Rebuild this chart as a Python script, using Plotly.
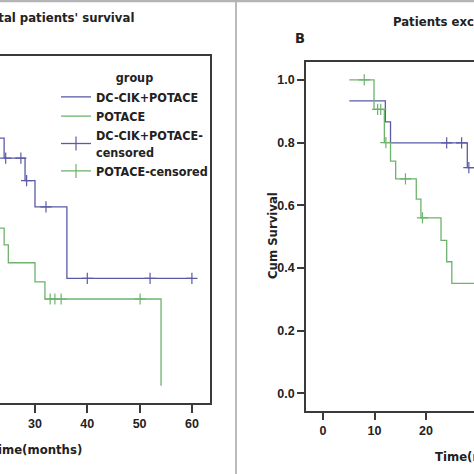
import plotly.graph_objects as go

# ---------------- data ----------------
# Panel A: total patients' survival (Kaplan-Meier steps)
a_dc_time = [0, 8, 15, 20, 24.1, 28.1, 30.0, 36.1, 60]
a_dc_surv = [1.0, 0.931, 0.862, 0.793, 0.729, 0.657, 0.573, 0.344, 0.344]
a_dc_cens_time = [24.4, 27.3, 28.4, 32.1, 40, 52, 60]
a_dc_cens_surv = [0.729, 0.729, 0.657, 0.573, 0.344, 0.344, 0.344]

a_po_time = [0, 2, 4, 6, 8, 11, 14, 17, 19, 22, 24.1, 24.9, 30.0, 31.9, 54.1]
a_po_surv = [1.0, 0.947, 0.894, 0.842, 0.789, 0.737, 0.684, 0.631, 0.568, 0.505,
             0.451, 0.394, 0.333, 0.278, 0.0]
a_po_cens_time = [32.9, 33.8, 35.0, 50.1]
a_po_cens_surv = [0.278, 0.278, 0.278, 0.278]

# Panel B: patients excluding ...
b_dc_time = [5.1, 12.1, 13.1, 28.0, 34]
b_dc_surv = [0.933, 0.866, 0.799, 0.72, 0.72]
b_dc_cens_time = [24.0, 26.9, 28.3]
b_dc_cens_surv = [0.799, 0.799, 0.72]

b_po_time = [5.1, 9.9, 11.9, 13.1, 14.1, 18.1, 19.0, 22.9, 24.0, 25.0, 34]
b_po_surv = [1.0, 0.906, 0.8, 0.741, 0.684, 0.62, 0.56, 0.488, 0.42, 0.351, 0.351]
b_po_cens_time = [8.0, 10.6, 11.2, 12.2, 16.0, 19.3]
b_po_cens_surv = [1.0, 0.906, 0.906, 0.8, 0.684, 0.56]

x_ticks = [0, 10, 20, 30, 40, 50, 60]
y_ticks = [0.0, 0.2, 0.4, 0.6, 0.8, 1.0]

legend_names = ["DC-CIK+POTACE", "POTACE", "DC-CIK+POTACE-<br>censored", "POTACE-censored"]

# ---------------- style ----------------
BLUE = "#5a5aa6"
GREEN = "#6db36d"
AXC = "#3a3a3a"
FONT = "DejaVu Sans Condensed, Liberation Sans Narrow, Arial Narrow, Liberation Sans, sans-serif"
TFONT = "Liberation Sans, Arial, sans-serif"
LW = 1.3
FS = 12.5

fig = go.Figure()

def step(x, y, color, xa, ya, name=None, show=False):
    fig.add_trace(go.Scatter(x=x, y=y, mode="lines", line=dict(color=color, width=LW, shape="hv"),
                             xaxis=xa, yaxis=ya, name=name, showlegend=show, hoverinfo="skip"))

def cens(x, y, color, xa, ya):
    fig.add_trace(go.Scatter(x=x, y=y, mode="markers",
                             marker=dict(symbol="cross-thin", size=8, line=dict(color=color, width=1.2)),
                             xaxis=xa, yaxis=ya, showlegend=False, hoverinfo="skip"))

# panel A
step(a_dc_time, a_dc_surv, BLUE, "x", "y", legend_names[0], True)
step(a_po_time, a_po_surv, GREEN, "x", "y", legend_names[1], True)
cens(a_dc_cens_time, a_dc_cens_surv, BLUE, "x", "y")
cens(a_po_cens_time, a_po_cens_surv, GREEN, "x", "y")
# legend-only entries for censored marks
for nm, col in [(legend_names[2], BLUE), (legend_names[3], GREEN)]:
    fig.add_trace(go.Scatter(x=[None], y=[None], mode="lines+markers", name=nm,
                             line=dict(color=col, width=LW),
                             marker=dict(symbol="line-ns", size=10, line=dict(color=col, width=1.2)),
                             xaxis="x", yaxis="y", showlegend=True))

# panel B
step(b_dc_time, b_dc_surv, BLUE, "x2", "y2")
step(b_po_time, b_po_surv, GREEN, "x2", "y2")
cens(b_dc_cens_time, b_dc_cens_surv, BLUE, "x2", "y2")
cens(b_po_cens_time, b_po_cens_surv, GREEN, "x2", "y2")

tickfont = dict(family=TFONT, size=12.5, color="#222", weight="bold")
W, H = 474, 474

fig.update_layout(
    width=W, height=H, margin=dict(l=0, r=0, t=0, b=0),
    paper_bgcolor="white", plot_bgcolor="white",
    xaxis=dict(domain=[0, 210 / W], range=[23.31, 63.46], tickvals=x_ticks,
               ticks="outside", ticklen=8, tickwidth=1.5, tickcolor=AXC,
               showline=True, mirror=True, linecolor=AXC, linewidth=1.5,
               showgrid=False, zeroline=False, tickfont=tickfont, anchor="y"),
    yaxis=dict(domain=[1 - 403 / H, 1 - 56 / H], range=[-0.055, 1.056], side="right",
               showline=True, linecolor=AXC, linewidth=1.5, ticks="", showticklabels=False,
               showgrid=False, zeroline=False, anchor="x"),
    xaxis2=dict(domain=[306 / W, 1], range=[-3.3, 29.3], tickvals=x_ticks,
                ticks="outside", ticklen=8, tickwidth=1.5, tickcolor=AXC,
                showline=True, mirror=True, linecolor=AXC, linewidth=1.5,
                showgrid=False, zeroline=False, tickfont=tickfont, anchor="y2"),
    yaxis2=dict(domain=[1 - 410.7 / H, 1 - 62.3 / H], range=[-0.055, 1.056], tickvals=y_ticks,
                tickformat=".1f", ticks="outside", ticklen=7, tickwidth=1.5, tickcolor=AXC,
                showline=True, linecolor=AXC, linewidth=1.5,
                showgrid=False, zeroline=False, tickfont=tickfont, anchor="x2"),
    legend=dict(x=56 / W, y=1 - 66 / H, xanchor="left", yanchor="top",
                bgcolor="rgba(0,0,0,0)", font=dict(family=FONT, size=FS, color="#222", weight="bold"),
                title=dict(text="group", side="top center",
                           font=dict(family=FONT, size=FS, color="#222", weight="bold")),
                tracegroupgap=0),
    showlegend=True,
)

ann_font = dict(family=FONT, size=13, color="#222", weight="bold")
fig.add_annotation(text="Total patients' survival", xref="paper", yref="paper",
                   x=136 / W, y=1 - 18 / H, xanchor="right", yanchor="middle",
                   showarrow=False, font=ann_font)
fig.add_annotation(text="Patients excluding distant metastasis", xref="paper", yref="paper",
                   x=391 / W, y=1 - 22 / H, xanchor="left", yanchor="middle",
                   showarrow=False, font=ann_font)
fig.add_annotation(text="B", xref="paper", yref="paper",
                   x=299.5 / W, y=1 - 38 / H, xanchor="center", yanchor="middle",
                   showarrow=False, font=dict(family=FONT, size=14.5, color="#222", weight="bold"))
fig.add_annotation(text="Time(months)", xref="paper", yref="paper",
                   x=35.5 / W, y=1 - 449 / H, xanchor="center", yanchor="middle",
                   showarrow=False, font=ann_font)
fig.add_annotation(text="Time(months)", xref="paper", yref="paper",
                   x=480.7 / W, y=1 - 456 / H, xanchor="center", yanchor="middle",
                   showarrow=False, font=ann_font)
fig.add_annotation(text="Cum Survival", xref="paper", yref="paper",
                   x=272 / W, y=1 - 236 / H, xanchor="center", yanchor="middle",
                   textangle=-90, showarrow=False, font=ann_font)

# panel frames
fig.add_shape(type="line", xref="paper", yref="paper", x0=0, x1=1, y0=1 - 1 / H, y1=1 - 1 / H,
              line=dict(color="#b4b4b4", width=2.5))
fig.add_shape(type="line", xref="paper", yref="paper", x0=236 / W, x1=236 / W, y0=0, y1=1,
              line=dict(color="#b4b4b4", width=1.8))

fig.write_html("out.html", config={"displayModeBar": False},
               post_script="document.body.style.margin='0';document.body.style.padding='0';"
                           "document.body.style.overflow='hidden';")
